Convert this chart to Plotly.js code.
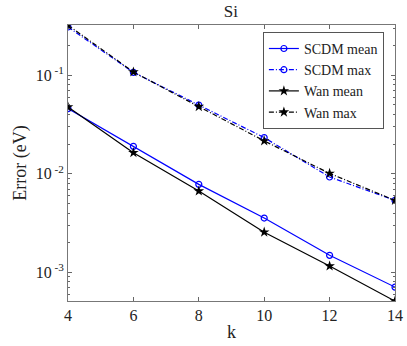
<!DOCTYPE html>
<html>
<head>
<meta charset="utf-8">
<script src="https://cdn.plot.ly/plotly-3.0.1.min.js"></script>
<style>
	html, body { margin: 0; padding: 0; background: #fff; }
	#myPlot { width: 407px; height: 346px; }
</style>
</head>
<body>
<div id="myPlot"></div>
<script>
// k values (x axis)
var kValues = [4, 6, 8, 10, 12, 14];

// errors in eV
var scdmMean = [0.0459, 0.0190, 0.00782, 0.00356, 0.00149, 0.00071];
var scdmMax  = [0.309, 0.107, 0.0499, 0.0233, 0.00929, 0.00538];
var wanMean  = [0.0476, 0.0164, 0.00669, 0.00256, 0.00116, 0.000512];
var wanMax   = [0.322, 0.108, 0.0481, 0.0216, 0.0101, 0.00538];

var yTickVals = [0.001, 0.01, 0.1];
var yTickText = ["10<sup> -3</sup>", "10<sup> -2</sup>", "10<sup> -1</sup>"];

var blue = '#0000ff';
var black = '#000000';
var serif = 'Liberation Serif';
var dashDot = '5px,2px,1px,2px';

function circleTrace(name, y, dash){
	return {
		x: kValues, y: y, name: name, mode: 'lines+markers',
		line: {color: blue, width: 1.2, dash: dash},
		marker: {symbol: 'circle-open', size: 6, color: blue, line: {width: 1.2, color: blue}}
	};
}
function starTrace(name, y, dash){
	return {
		x: kValues, y: y, name: name, mode: 'lines+markers',
		line: {color: black, width: 1.2, dash: dash},
		marker: {symbol: 'star', size: 8, color: black}
	};
}

var data = [
	circleTrace('SCDM mean', scdmMean, 'solid'),
	circleTrace('SCDM max', scdmMax, dashDot),
	starTrace('Wan mean', wanMean, 'solid'),
	starTrace('Wan max', wanMax, dashDot)
];

// minor log ticks 2..9 of every decade
var minorVals = [];
for (var e = -4; e <= 0; e++) {
	for (var m = 2; m <= 9; m++) minorVals.push(m * Math.pow(10, e));
}

var layout = {
	width: 407, height: 346,
	margin: {l: 68, r: 12, t: 25, b: 45},
	paper_bgcolor: '#fff', plot_bgcolor: '#fff',
	font: {family: serif, size: 15, color: '#222'},
	title: {text: 'Si', font: {family: serif, size: 17, color: '#222'}, x: 0.567, xanchor: 'center', y: 0.985, yanchor: 'top'},
	showlegend: true,
	legend: {
		x: 0.596, xanchor: 'left', y: 0.975, yanchor: 'top',
		bgcolor: '#fff', bordercolor: '#555', borderwidth: 1,
		font: {family: serif, size: 14, color: '#222'},
		itemwidth: 30, tracegroupgap: 0
	},
	xaxis: {
		range: [4, 14], tickvals: [4, 6, 8, 10, 12, 14],
		ticks: 'inside', ticklen: 4, tickcolor: '#666',
		showline: true, linecolor: '#777', linewidth: 1, mirror: 'allticks',
		showgrid: false, zeroline: false,
		tickfont: {family: serif, size: 16, color: '#222'},
		title: {text: 'k', font: {family: serif, size: 18, color: '#222'}, standoff: 2}
	},
	yaxis: {
		type: 'log', range: [-3.29, -0.49],
		tickvals: yTickVals, ticktext: yTickText,
		ticks: 'inside', ticklen: 4, tickcolor: '#666',
		minor: {tickvals: minorVals, ticks: 'inside', ticklen: 2, tickcolor: '#666'},
		showline: true, linecolor: '#777', linewidth: 1, mirror: 'allticks',
		showgrid: false, zeroline: false,
		tickfont: {family: serif, size: 16, color: '#222'},
		title: {text: 'Error (eV)', font: {family: serif, size: 18, color: '#222'}, standoff: 4}
	}
};

Plotly.newPlot('myPlot', data, layout, {displayModeBar: false, staticPlot: true});
</script>
</body>
</html>
